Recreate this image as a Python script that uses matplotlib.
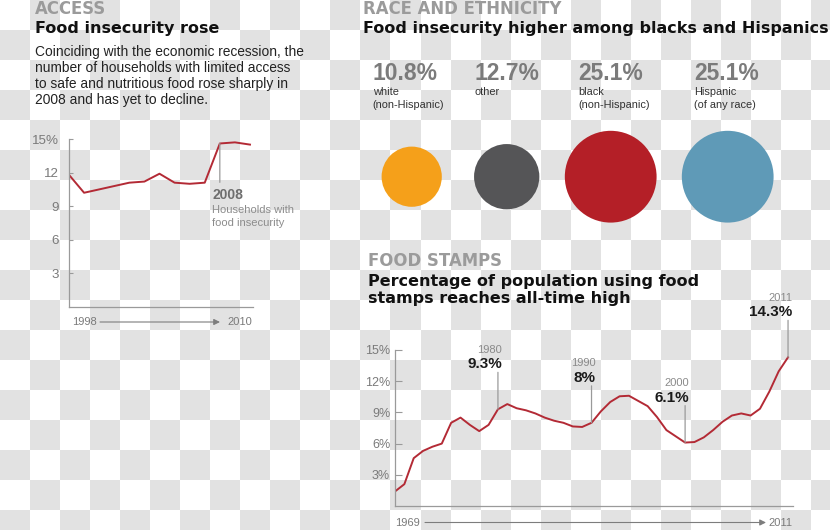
import numpy as np
import matplotlib
matplotlib.use("Agg")
import matplotlib.pyplot as plt

# === Données ===
insec_years = list(range(1998, 2011))
insec_values = [11.8, 10.2, 10.5, 10.8, 11.1, 11.2, 11.9, 11.1, 11.0, 11.1, 14.6, 14.7, 14.5]

race_values = [10.8, 12.7, 25.1, 25.1]
race_labels = ["white\n(non-Hispanic)", "other", "black\n(non-Hispanic)", "Hispanic\n(of any race)"]
race_colors = ["#f5a01a", "#555557", "#b41f27", "#5f9ab7"]

stamp_years = list(range(1969, 2012))
stamp_values = [1.4, 2.1, 4.6, 5.3, 5.7, 6.0, 8.0, 8.5, 7.8, 7.2, 7.8, 9.3, 9.8, 9.4,
                9.2, 8.9, 8.5, 8.2, 8.0, 7.65, 7.6, 8.0, 9.1, 10.0, 10.55, 10.6, 10.1,
                9.6, 8.55, 7.3, 6.7, 6.1, 6.15, 6.6, 7.3, 8.1, 8.7, 8.9, 8.7, 9.35,
                11.0, 12.95, 14.3]
stamp_marked = [1980, 1990, 2000, 2011]

insec_ticks = [3, 6, 9, 12, 15]
insec_ticklabels = ["3", "6", "9", "12", "15%"]
stamp_ticks = [3, 6, 9, 12, 15]
stamp_ticklabels = ["3%", "6%", "9%", "12%", "15%"]

# === Style ===
W, H = 830, 530
RED = "#b32a35"
GREY_AX = "#9a9a9a"
GREY_TXT = "#7a7a7a"
plt.rcParams['font.family'] = ['Liberation Sans', 'DejaVu Sans']
TITRE = dict(family='DejaVu Sans', fontweight='bold', fontsize=11.5, va='center', color="#111111")
RUBRIQUE = dict(family='DejaVu Sans', fontweight='bold', fontsize=11.9, va='center', color="#9b9b9b")

fig = plt.figure(figsize=(W / 100, H / 100), dpi=100)
fig.patch.set_alpha(0)


def box(x0, y0, x1, y1):
    # rectangle en pixels (origine en haut à gauche) -> fraction de figure
    return [x0 / W, 1 - y1 / H, (x1 - x0) / W, (y1 - y0) / H]


# toile en pixels pour le fond, les textes et les bulles
canvas = fig.add_axes([0, 0, 1, 1])
canvas.set_zorder(-1)
canvas.axis('off')

# fond en damier (image "transparente")
yy, xx = np.mgrid[0:H, 0:W]
damier = (xx // 30 + yy // 30) % 2
fond = np.where(damier > 0, 226, 255).astype(np.uint8)
canvas.imshow(np.dstack([fond] * 3), extent=(0, W, H, 0), interpolation='nearest',
              aspect='auto', zorder=0)
canvas.set_xlim(0, W)
canvas.set_ylim(H, 0)


def style_axis(ax, ticks, labels, pad, tlen, size):
    ax.patch.set_alpha(0)
    for s in ["top", "right"]:
        ax.spines[s].set_visible(False)
    for s in ["left", "bottom"]:
        ax.spines[s].set_color(GREY_AX)
        ax.spines[s].set_linewidth(0.9)
    ax.set_yticks(ticks)
    ax.set_yticklabels(labels)
    ax.tick_params(axis='y', direction='in', length=tlen, width=0.8, color=GREY_AX,
                   labelcolor=GREY_TXT, labelsize=size, pad=pad)
    ax.set_xticks([])


# === Panneau gauche : insécurité alimentaire ===
canvas.text(35, 8.5, "ACCESS", **RUBRIQUE)
canvas.text(35, 28.5, "Food insecurity rose", **TITRE)
canvas.text(35, 45, "Coinciding with the economic recession, the\n"
                    "number of households with limited access\n"
                    "to safe and nutritious food rose sharply in\n"
                    "2008 and has yet to decline.",
            fontsize=9.9, color="#222222", va='top', linespacing=1.19)

ax1 = fig.add_axes(box(69, 139, 253, 307))
ax1.plot(insec_years, insec_values, color=RED, lw=1.4)
ax1.set_xlim(1998, 2010.2)
ax1.set_ylim(0, 15)
style_axis(ax1, insec_ticks, insec_ticklabels, 7, 3, 9.6)

i08 = insec_years.index(2008)
ax1.annotate('', xy=(2008, insec_values[i08]), xytext=(0, -28), textcoords='offset points',
             arrowprops=dict(arrowstyle='-', color=GREY_AX, lw=0.9, shrinkA=0, shrinkB=0))
ax1.annotate("2008", xy=(2008, insec_values[i08]), xytext=(-5.5, -37.4), textcoords='offset points',
             fontsize=10, fontweight='bold', color="#6e6e6e", ha='left', va='center')
ax1.annotate("Households with\nfood insecurity", xy=(2008, insec_values[i08]), xytext=(-5.5, -44.5),
             textcoords='offset points', fontsize=8, color="#8c8c8c", ha='left', va='top',
             linespacing=1.3)

canvas.text(72, 322, str(insec_years[0]), fontsize=8, color=GREY_TXT, va='center')
canvas.annotate('', xy=(220, 322), xytext=(100, 322),
                arrowprops=dict(arrowstyle='-|>', color="#7d7d7d", lw=0.8, mutation_scale=9,
                                shrinkA=0, shrinkB=0))
canvas.text(227, 322, str(insec_years[-1]), fontsize=8, color=GREY_TXT, va='center')

# === Panneau droit haut : race et origine ===
canvas.text(363, 8.5, "RACE AND ETHNICITY", **RUBRIQUE)
canvas.text(363, 28.5, "Food insecurity higher among blacks and Hispanics", **TITRE)

bulle_x = [411.7, 506.7, 610.7, 727.7]
texte_x = [372.7, 474, 578.3, 694.3]
canvas.scatter(bulle_x, [176.7] * len(race_values), s=[v * 174 for v in race_values],
               c=race_colors, linewidths=0, zorder=3)
for tx, v, lab in zip(texte_x, race_values, race_labels):
    canvas.text(tx, 73, f"{v}%", fontsize=16.5, fontweight='bold', color="#7b7b7b", va='center')
    canvas.text(tx, 87, lab, fontsize=7.9, color="#333333", va='top', linespacing=1.35)

# === Panneau droit bas : bons alimentaires ===
canvas.text(368, 261, "FOOD STAMPS", **RUBRIQUE)
canvas.text(368, 290, "Percentage of population using food\nstamps reaches all-time high",
            linespacing=1.2, **TITRE)

ax2 = fig.add_axes(box(395, 350, 793, 506))
ax2.plot(stamp_years, stamp_values, color=RED, lw=1.4)
ax2.set_xlim(1969, 2011.53)
ax2.set_ylim(0, 15)
style_axis(ax2, stamp_ticks, stamp_ticklabels, 3.5, 5, 9)

for yr in stamp_marked:
    v = stamp_values[stamp_years.index(yr)]
    ax2.annotate('', xy=(yr, v), xytext=(0, 26.6), textcoords='offset points',
                 arrowprops=dict(arrowstyle='-', color=GREY_AX, lw=0.9, shrinkA=0, shrinkB=0),
                 annotation_clip=False)
    ax2.annotate(f"{v:g}%", xy=(yr, v), xytext=(3, 32.4), textcoords='offset points',
                 fontsize=11, fontweight='bold', color="#1a1a1a", ha='right', va='center',
                 annotation_clip=False)
    ax2.annotate(str(yr), xy=(yr, v), xytext=(3, 42.8), textcoords='offset points',
                 fontsize=8, color="#8a8a8a", ha='right', va='center', annotation_clip=False)

canvas.text(395, 522.5, str(stamp_years[0]), fontsize=8, color=GREY_TXT, va='center')
canvas.annotate('', xy=(766, 522.5), xytext=(425, 522.5),
                arrowprops=dict(arrowstyle='-|>', color="#7d7d7d", lw=0.8, mutation_scale=9,
                                shrinkA=0, shrinkB=0))
canvas.text(768, 522.5, str(stamp_years[-1]), fontsize=8, color=GREY_TXT, va='center')

fig.savefig("out.png", dpi=100)
